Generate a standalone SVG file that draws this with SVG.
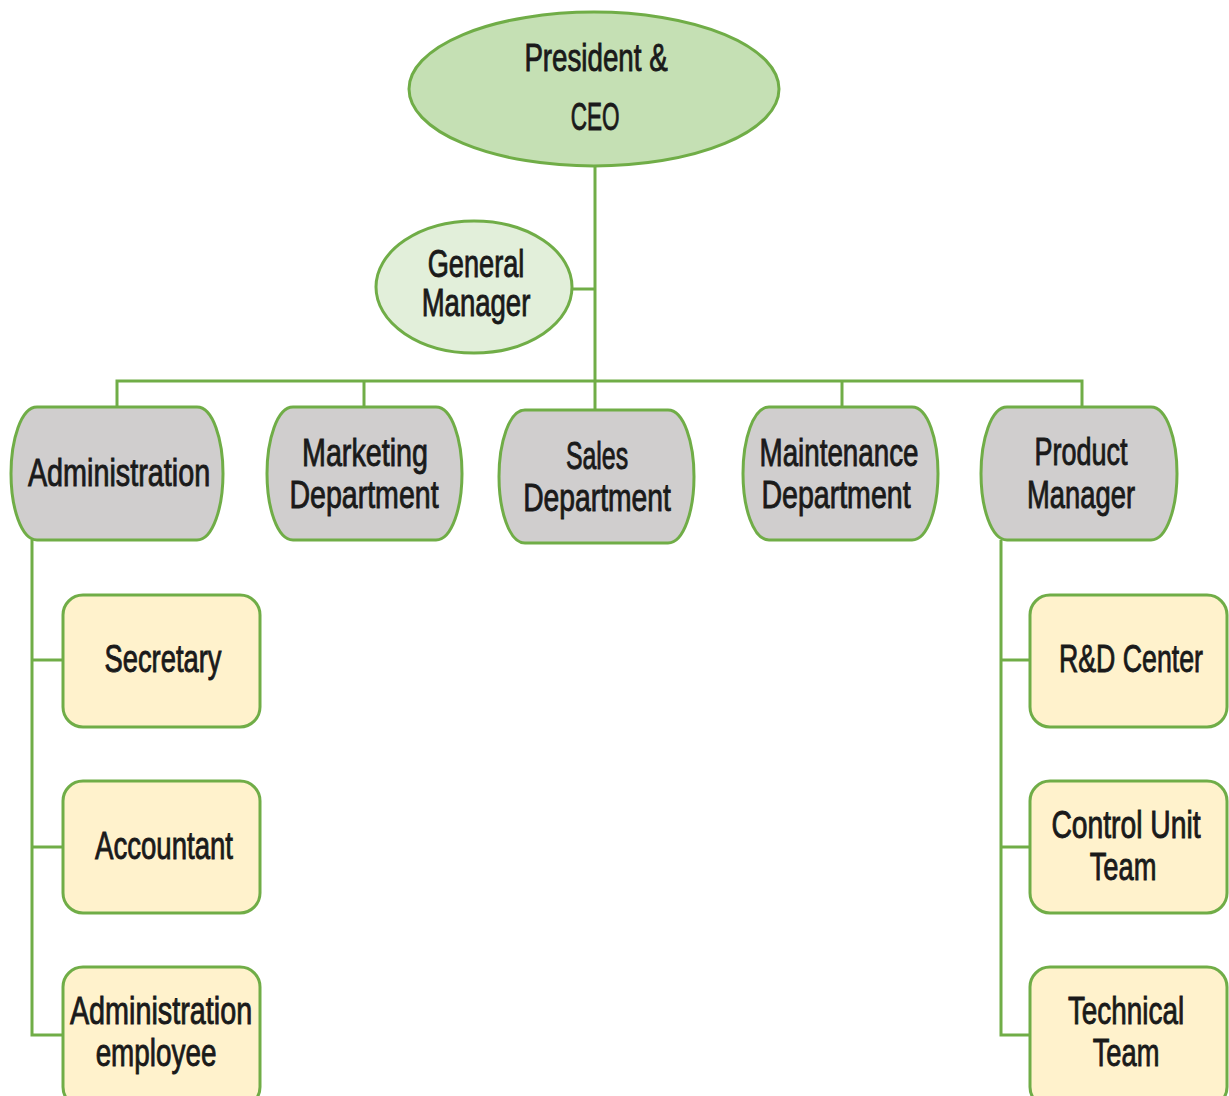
<svg xmlns="http://www.w3.org/2000/svg" width="1229" height="1096" viewBox="0 0 1229 1096">
<style>
.ln{fill:none;stroke:#70ad47;stroke-width:3}
.dept{fill:#d0cece;stroke:#70ad47;stroke-width:3}
.sub{fill:#fff2cc;stroke:#70ad47;stroke-width:3}
.t{font-family:"Liberation Sans",Arial,sans-serif;font-size:38px;fill:#1a1a1a;stroke:#1a1a1a;stroke-width:0.9;text-anchor:middle}
</style>
<rect width="1229" height="1096" fill="#ffffff"/>
<g id="connectors">
<path class="ln" d="M595,166 V410"/>
<path class="ln" d="M572,289 H595"/>
<path class="ln" d="M117,407 V381 H1082 V407"/>
<path class="ln" d="M364,381 V407"/>
<path class="ln" d="M842,381 V407"/>
<path class="ln" d="M32,540 V1035 H63"/>
<path class="ln" d="M32,660 H63"/>
<path class="ln" d="M32,847 H63"/>
<path class="ln" d="M1001,540 V1035 H1030"/>
<path class="ln" d="M1001,660 H1030"/>
<path class="ln" d="M1001,847 H1030"/>
</g>
<g id="ceo">
<ellipse cx="594" cy="89" rx="185" ry="77" fill="#c5e0b4" stroke="#70ad47" stroke-width="3"/>
<text class="t" transform="translate(596,71) scale(0.75,1)" textLength="191" lengthAdjust="spacingAndGlyphs">President &amp;</text>
<text class="t" transform="translate(595,130) scale(0.75,1)" textLength="65" lengthAdjust="spacingAndGlyphs">CEO</text>
</g>
<g id="gm">
<ellipse cx="474" cy="287" rx="98" ry="66" fill="#e2efda" stroke="#70ad47" stroke-width="3"/>
<text class="t" transform="translate(476,277) scale(0.75,1)" textLength="129" lengthAdjust="spacingAndGlyphs">General</text>
<text class="t" transform="translate(476,316) scale(0.75,1)" textLength="145" lengthAdjust="spacingAndGlyphs">Manager</text>
</g>
<g id="administration">
<path class="dept" d="M37,407 H197 C213,407 223,440 223,473.5 C223,507 213,540 197,540 H37 C21,540 11,507 11,473.5 C11,440 21,407 37,407 Z"/>
<text class="t" transform="translate(119,486) scale(0.75,1)" textLength="243" lengthAdjust="spacingAndGlyphs">Administration</text>
</g>
<g id="marketing">
<path class="dept" d="M293,407 H436 C452,407 462,440 462,473.5 C462,507 452,540 436,540 H293 C277,540 267,507 267,473.5 C267,440 277,407 293,407 Z"/>
<text class="t" transform="translate(365,466) scale(0.75,1)" textLength="168" lengthAdjust="spacingAndGlyphs">Marketing</text>
<text class="t" transform="translate(364,508) scale(0.75,1)" textLength="199" lengthAdjust="spacingAndGlyphs">Department</text>
</g>
<g id="sales">
<path class="dept" d="M525,410 H668 C684,410 694,443 694,476.5 C694,510 684,543 668,543 H525 C509,543 499,510 499,476.5 C499,443 509,410 525,410 Z"/>
<text class="t" transform="translate(597,469) scale(0.75,1)" textLength="83" lengthAdjust="spacingAndGlyphs">Sales</text>
<text class="t" transform="translate(597,511) scale(0.75,1)" textLength="197" lengthAdjust="spacingAndGlyphs">Department</text>
</g>
<g id="maintenance">
<path class="dept" d="M769,407 H912 C928,407 938,440 938,473.5 C938,507 928,540 912,540 H769 C753,540 743,507 743,473.5 C743,440 753,407 769,407 Z"/>
<text class="t" transform="translate(839,466) scale(0.75,1)" textLength="212" lengthAdjust="spacingAndGlyphs">Maintenance</text>
<text class="t" transform="translate(836,508) scale(0.75,1)" textLength="199" lengthAdjust="spacingAndGlyphs">Department</text>
</g>
<g id="product">
<path class="dept" d="M1007,407 H1151 C1167,407 1177,440 1177,473.5 C1177,507 1167,540 1151,540 H1007 C991,540 981,507 981,473.5 C981,440 991,407 1007,407 Z"/>
<text class="t" transform="translate(1081,465) scale(0.75,1)" textLength="124" lengthAdjust="spacingAndGlyphs">Product</text>
<text class="t" transform="translate(1081,508) scale(0.75,1)" textLength="144" lengthAdjust="spacingAndGlyphs">Manager</text>
</g>
<g id="secretary">
<rect class="sub" x="63" y="595" width="197" height="132" rx="20"/>
<text class="t" transform="translate(163,672) scale(0.75,1)" textLength="156" lengthAdjust="spacingAndGlyphs">Secretary</text>
</g>
<g id="accountant">
<rect class="sub" x="63" y="781" width="197" height="132" rx="20"/>
<text class="t" transform="translate(164,859) scale(0.75,1)" textLength="184" lengthAdjust="spacingAndGlyphs">Accountant</text>
</g>
<g id="admin-employee">
<rect class="sub" x="63" y="967" width="197" height="140" rx="20"/>
<text class="t" transform="translate(161,1024) scale(0.75,1)" textLength="243" lengthAdjust="spacingAndGlyphs">Administration</text>
<text class="t" transform="translate(156,1066) scale(0.75,1)" textLength="161" lengthAdjust="spacingAndGlyphs">employee</text>
</g>
<g id="rd-center">
<rect class="sub" x="1030" y="595" width="197" height="132" rx="20"/>
<text class="t" transform="translate(1131,672) scale(0.75,1)" textLength="192" lengthAdjust="spacingAndGlyphs">R&amp;D Center</text>
</g>
<g id="control-unit">
<rect class="sub" x="1030" y="781" width="197" height="132" rx="20"/>
<text class="t" transform="translate(1126,838) scale(0.75,1)" textLength="199" lengthAdjust="spacingAndGlyphs">Control Unit</text>
<text class="t" transform="translate(1123,880) scale(0.75,1)" textLength="89" lengthAdjust="spacingAndGlyphs">Team</text>
</g>
<g id="technical">
<rect class="sub" x="1030" y="967" width="197" height="140" rx="20"/>
<text class="t" transform="translate(1126,1024) scale(0.75,1)" textLength="155" lengthAdjust="spacingAndGlyphs">Technical</text>
<text class="t" transform="translate(1126,1066) scale(0.75,1)" textLength="89" lengthAdjust="spacingAndGlyphs">Team</text>
</g>
</svg>
